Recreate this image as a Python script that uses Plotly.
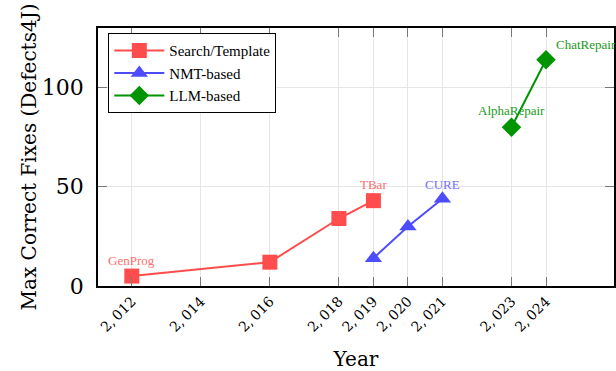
import plotly.graph_objects as go

# Program repair systems: best number of correct fixes on Defects4J per year
search_years = [2012, 2016, 2018, 2019]
search_fixes = [5, 12, 34, 43]
search_labels = ["GenProg", "", "", "TBar"]

nmt_years = [2019, 2020, 2021]
nmt_fixes = [14, 30, 44]
nmt_labels = ["", "", "CURE"]

llm_years = [2023, 2024]
llm_fixes = [80, 114]
llm_labels = ["AlphaRepair", "ChatRepair"]

tick_years = [2012, 2014, 2016, 2018, 2019, 2020, 2021, 2023, 2024]
tick_text = ["2,\u2009012", "2,\u2009014", "2,\u2009016", "2,\u2009018", "2,\u2009019",
             "2,\u2009020", "2,\u2009021", "2,\u2009023", "2,\u2009024"]

RED = "#ff4d4d"
BLUE = "#4d4dff"
GREEN = "#009400"
SERIF = "Liberation Serif, DejaVu Serif, serif"
MATH = "DejaVu Serif, serif"

fig = go.Figure()
fig.add_trace(go.Scatter(
    x=search_years, y=search_fixes, mode="lines+markers", name="Search/Template",
    line=dict(color=RED, width=2), marker=dict(symbol="square", size=15, color=RED)))
fig.add_trace(go.Scatter(
    x=nmt_years, y=nmt_fixes, mode="lines+markers", name="NMT-based",
    line=dict(color=BLUE, width=2), marker=dict(symbol="triangle-up", size=15, color=BLUE)))
fig.add_trace(go.Scatter(
    x=llm_years, y=llm_fixes, mode="lines+markers", name="LLM-based",
    line=dict(color=GREEN, width=2), marker=dict(symbol="diamond", size=15, color=GREEN)))

# point labels (x offset in pixels, y offset in pixels)
label_sets = [
    (search_years, search_fixes, search_labels, "#ff7070", [(0, 16), (0, 0), (0, 0), (0, 16)]),
    (nmt_years, nmt_fixes, nmt_labels, "#7070ff", [(0, 0), (0, 0), (0, 14)]),
    (llm_years, llm_fixes, llm_labels, "#1a9a1a", [(0, 17), (40, 15)]),
]
for xs, ys, labels, col, offs in label_sets:
    for x, y, lab, (dx, dy) in zip(xs, ys, labels, offs):
        if lab:
            fig.add_annotation(x=x, y=y, text=lab, showarrow=False,
                               xshift=dx, yshift=dy,
                               font=dict(family=SERIF, size=13, color=col))

fig.update_layout(
    width=616, height=371,
    margin=dict(l=98, r=0, t=28, b=85),
    plot_bgcolor="white", paper_bgcolor="white",
    font=dict(family=SERIF, color="black"),
    legend=dict(x=0.02, y=0.98, xanchor="left", yanchor="top",
                bordercolor="black", borderwidth=1, bgcolor="white",
                font=dict(family=SERIF, size=15), itemwidth=50),
    showlegend=True,
)
fig.update_xaxes(
    range=[2011.02, 2025.97], tickvals=tick_years, ticktext=tick_text,
    tickangle=-45, tickfont=dict(family=MATH, size=14),
    showgrid=True, gridcolor="#e6e6e6", gridwidth=1,
    showline=True, linecolor="black", linewidth=1.5, mirror="ticks",
    ticks="inside", ticklen=9, tickcolor="#777777",
    title=dict(text="Year", font=dict(family=MATH, size=20), standoff=18),
    zeroline=False,
)
fig.update_yaxes(
    range=[0, 130], tickvals=[0, 50, 100],
    tickfont=dict(family=MATH, size=22), ticklabelstandoff=8,
    showgrid=True, gridcolor="#e6e6e6", gridwidth=1,
    showline=True, linecolor="black", linewidth=1.5, mirror="ticks",
    ticks="inside", ticklen=9, tickcolor="#777777",
    title=dict(text="Max Correct Fixes (Defects4J)",
               font=dict(family=MATH, size=20), standoff=0),
    zeroline=False,
)

fig.write_html("out.html")
